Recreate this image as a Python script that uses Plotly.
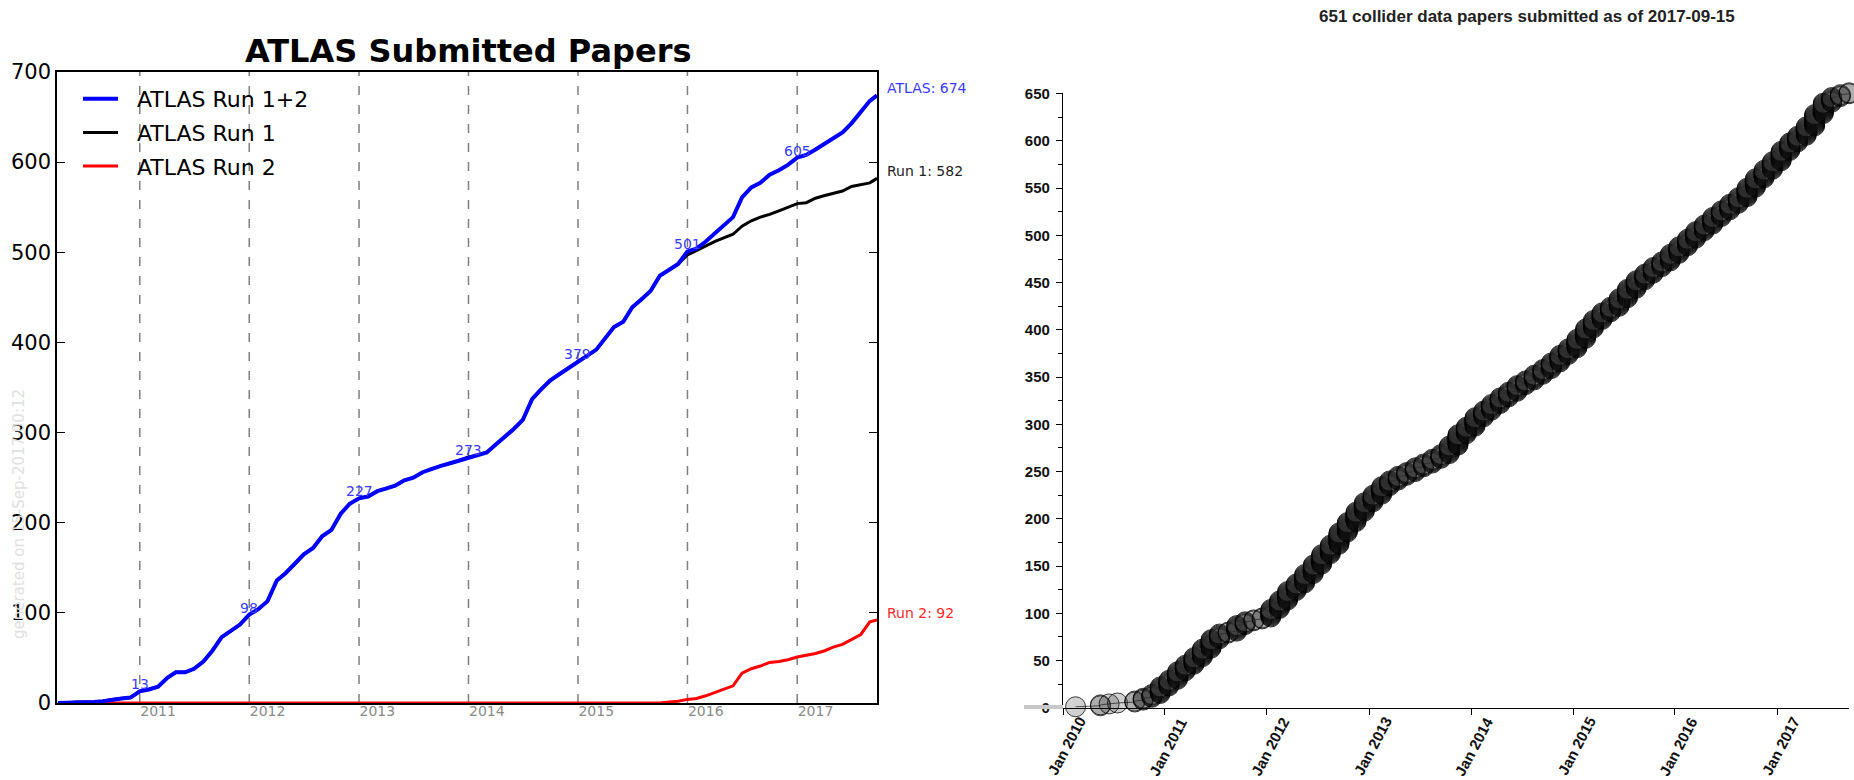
import pandas as pd
import plotly.graph_objects as go

W, H = 1854, 780

# ---------------- ATLAS submitted papers (left panel) ----------------
# cumulative counts at the start of each month, plus the last update
atlas_dates = [d.strftime("%Y-%m-%d") for d in pd.date_range("2010-02-01", "2017-07-01", freq="MS")] + ["2017-07-25"]

atlas_total = [
    0, 0, 1, 1, 1, 2, 4, 5, 6, 13, 15,                      # 2010 Feb-Dec
    18, 28, 34, 34, 38, 46, 58, 73, 80, 87, 98, 104,        # 2011
    113, 136, 144, 154, 165, 172, 185, 192, 210, 221, 227, 229,  # 2012
    235, 238, 241, 247, 250, 256, 260, 263, 266, 269, 273, 275,  # 2013
    278, 287, 295, 304, 314, 337, 348, 358, 365, 372, 379, 385,  # 2014
    392, 405, 417, 423, 439, 448, 457, 474, 481, 487, 501, 504,  # 2015
    512, 521, 530, 539, 561, 572, 577, 586, 591, 597, 605, 608,  # 2016
    614, 621, 626, 633, 643, 656, 668,                      # 2017 Jan-Jul
    674,
]

# Run 2 papers start in the second half of 2015
run2 = [0] * 65 + [
    0, 0, 1, 2, 4, 5,                                        # 2015 Jul-Dec
    8, 12, 15, 19, 33, 38, 41, 45, 46, 48, 51, 53,           # 2016
    55, 58, 62, 65, 70, 76, 90,                              # 2017 Jan-Jul
    92,
]

# Run 1 equals the total until Run 2 results appear (Nov 2015)
run1 = atlas_total[:69] + [
    497, 502,                                                # 2015 Nov-Dec
    507, 512, 516, 520, 529, 535, 539, 542, 546, 550, 554, 555,  # 2016
    560, 563, 565, 568, 573, 575, 577,                       # 2017 Jan-Jul
    582,
]

year_marks = ["2010-11-01", "2011-11-01", "2012-11-01", "2013-11-01",
              "2014-11-01", "2015-11-01", "2016-11-01"]
atlas_years = ["2011", "2012", "2013", "2014", "2015", "2016", "2017"]

# ---------------- collider data papers (right panel) ----------------
collider_months = pd.date_range("2010-01-01", "2017-09-01", freq="MS")
papers_per_month = [
    0, 1, 0, 0, 2, 1, 1, 0, 2, 3, 4, 8,          # 2010
    7, 9, 7, 8, 9, 10, 6, 2, 7, 4, 2, 2,         # 2011
    9, 9, 10, 8, 10, 10, 11, 10, 13, 11, 11, 10,  # 2012
    8, 9, 6, 5, 4, 5, 4, 5, 5, 9, 12, 8,         # 2013
    10, 7, 7, 7, 6, 7, 5, 6, 6, 7, 8, 7,         # 2014
    10, 11, 9, 8, 6, 9, 10, 9, 7, 7, 6, 8,       # 2015
    8, 8, 8, 7, 8, 7, 7, 7, 10, 10, 9, 9,        # 2016
    11, 9, 7, 10, 13, 12, 6, 3, 2,               # 2017 Jan-Sep
]
collider_years = list(range(2010, 2018))
collider_asof = "2017-09-15"

# one point per paper, placed in the middle of its submission month
paper_x, paper_y = [], []
n = 0
for month, count in zip(collider_months, papers_per_month):
    for _ in range(count):
        n += 1
        paper_x.append((month + pd.Timedelta(days=14)).strftime("%Y-%m-%d"))
        paper_y.append(n)

# ---------------- figure ----------------
fig = go.Figure()

gap = "\u00a0\u00a0"  # spacing between legend line and label
fig.add_trace(go.Scatter(x=atlas_dates, y=run2, mode="lines", name=gap + "ATLAS Run 2",
                         line=dict(color="#ff0000", width=3), legendrank=3,
                         legendgroup="r2", xaxis="x", yaxis="y"))
fig.add_trace(go.Scatter(x=atlas_dates, y=run1, mode="lines", name=gap + "ATLAS Run 1",
                         line=dict(color="#000000", width=3), legendrank=2,
                         legendgroup="r1", xaxis="x", yaxis="y"))
fig.add_trace(go.Scatter(x=atlas_dates, y=atlas_total, mode="lines", name=gap + "ATLAS Run 1+2",
                         line=dict(color="#0000ff", width=4), legendrank=1,
                         legendgroup="r12", xaxis="x", yaxis="y"))

fig.add_trace(go.Scatter(x=paper_x, y=paper_y, mode="lines", showlegend=False,
                         line=dict(color="#555555", width=1), xaxis="x2", yaxis="y2",
                         cliponaxis=False, hoverinfo="skip"))
fig.add_trace(go.Scatter(x=paper_x, y=paper_y, mode="markers", showlegend=False,
                         marker=dict(size=20, color="rgba(45,45,45,0.22)",
                                     line=dict(color="rgba(0,0,0,0.75)", width=1)),
                         xaxis="x2", yaxis="y2", cliponaxis=False))

shapes = []
for d in year_marks:
    shapes.append(dict(type="line", xref="x", yref="y domain", x0=d, x1=d, y0=0, y1=1,
                       line=dict(color="#7f7f7f", width=1.5, dash="9px,10px"), layer="below"))
# light grey stub left of the zero line on the right panel
shapes.append(dict(type="line", xref="paper", yref="paper",
                   x0=1024 / W, x1=1063 / W, y0=1 - 707 / H, y1=1 - 707 / H,
                   line=dict(color="#c8c8c8", width=4), layer="above"))

annotations = []
lookup = dict(zip(atlas_dates, atlas_total))
for d in year_marks:
    annotations.append(dict(x=d, y=lookup[d], xref="x", yref="y", text=str(lookup[d]),
                            showarrow=False, xanchor="center", yanchor="bottom", yshift=-3,
                            font=dict(family="DejaVu Sans", size=14, color="#3a3aff")))

end_labels = [
    (f"ATLAS: {atlas_total[-1]}", atlas_total[-1], "#3a3aff"),
    (f"Run 1: {run1[-1]}", run1[-1], "#222222"),
    (f"Run 2: {run2[-1]}", run2[-1], "#ff2a2a"),
]
for text, val, col in end_labels:
    annotations.append(dict(x=atlas_dates[-1], y=val, xref="x", yref="y", text=text,
                            showarrow=False, xanchor="left", yanchor="bottom", xshift=8, yshift=-3,
                            font=dict(family="DejaVu Sans", size=14, color=col)))

annotations.append(dict(x=468 / W, y=1 - 51 / H, xref="paper", yref="paper",
                        text="<b>ATLAS Submitted Papers</b>", showarrow=False,
                        xanchor="center", yanchor="middle",
                        font=dict(family="DejaVu Sans", size=32, color="#000000")))
annotations.append(dict(x=19 / W, y=1 - 514 / H, xref="paper", yref="paper",
                        text="generated on 15-Sep-2017 00:12", textangle=-90, showarrow=False,
                        xanchor="center", yanchor="middle",
                        font=dict(family="DejaVu Sans", size=15, color="#e0e0e0")))

annotations.append(dict(x=1527 / W, y=1 - 16 / H, xref="paper", yref="paper",
                        text=f"{len(paper_y)} collider data papers submitted as of {collider_asof}",
                        showarrow=False, xanchor="center", yanchor="middle",
                        font=dict(family="Liberation Sans", size=17, color="#222222", weight="bold")))

for yr in collider_years:
    annotations.append(dict(x=f"{yr}-01-01", y=0, xref="x2", yref="y2", text=f"Jan {yr}",
                            textangle=-62, showarrow=False, xanchor="right", yanchor="top",
                            xshift=28, yshift=-4,
                            font=dict(family="Liberation Sans", size=15, color="#111111", weight="bold")))

fig.update_layout(
    template="none",
    width=W, height=H,
    margin=dict(l=0, r=0, t=0, b=0, pad=0),
    paper_bgcolor="white", plot_bgcolor="white",
    showlegend=True,
    legend=dict(x=78 / W, y=1 - 78 / H, xanchor="left", yanchor="top",
                bgcolor="rgba(0,0,0,0)", tracegroupgap=2, itemwidth=35,
                font=dict(family="DejaVu Sans", size=22, color="#000000")),
    xaxis=dict(domain=[57 / W, 877 / W], type="date", range=["2010-01-29", "2017-07-25"],
               tickvals=[f"{y}-01-01" for y in atlas_years], ticktext=atlas_years,
               ticks="", showgrid=False, zeroline=False, automargin=False,
               showline=True, mirror=True, linecolor="#000000", linewidth=1.5,
               ticklabelstandoff=-6,
               tickfont=dict(family="DejaVu Sans", size=14, color="#8a8a8a"), anchor="y"),
    yaxis=dict(domain=[1 - 703 / H, 1 - 72 / H], range=[0, 700], dtick=100,
               ticks="inside", ticklen=8, tickwidth=1, tickcolor="#000000",
               showgrid=False, zeroline=False, automargin=False,
               showline=True, mirror="ticks", linecolor="#000000", linewidth=1.5,
               tickfont=dict(family="DejaVu Sans", size=21, color="#000000"), anchor="x"),
    xaxis2=dict(domain=[1063 / W, 1849 / W], type="date", range=["2010-01-01", collider_asof],
                tickvals=[f"{y}-01-01" for y in collider_years], showticklabels=False,
                ticks="outside", ticklen=6, tickcolor="#000000", tickwidth=1.2,
                showgrid=False, zeroline=False, automargin=False,
                showline=True, linecolor="#000000", linewidth=1.2, anchor="y2"),
    yaxis2=dict(domain=[1 - 707.7 / H, 1 - 92.8 / H], range=[0, 651],
                tickvals=list(range(0, 651, 50)),
                ticks="outside", ticklen=6, tickcolor="#000000", tickwidth=1.2,
                minor=dict(dtick=25, ticks="outside", ticklen=4, tickcolor="#000000"),
                showgrid=False, zeroline=False, automargin=False,
                showline=True, linecolor="#000000", linewidth=1.2,
                ticklabelstandoff=3,
                tickfont=dict(family="Liberation Sans", size=15, color="#111111", weight="bold"),
                anchor="x2"),
    shapes=shapes,
    annotations=annotations,
)

fig.write_html("out.html")
